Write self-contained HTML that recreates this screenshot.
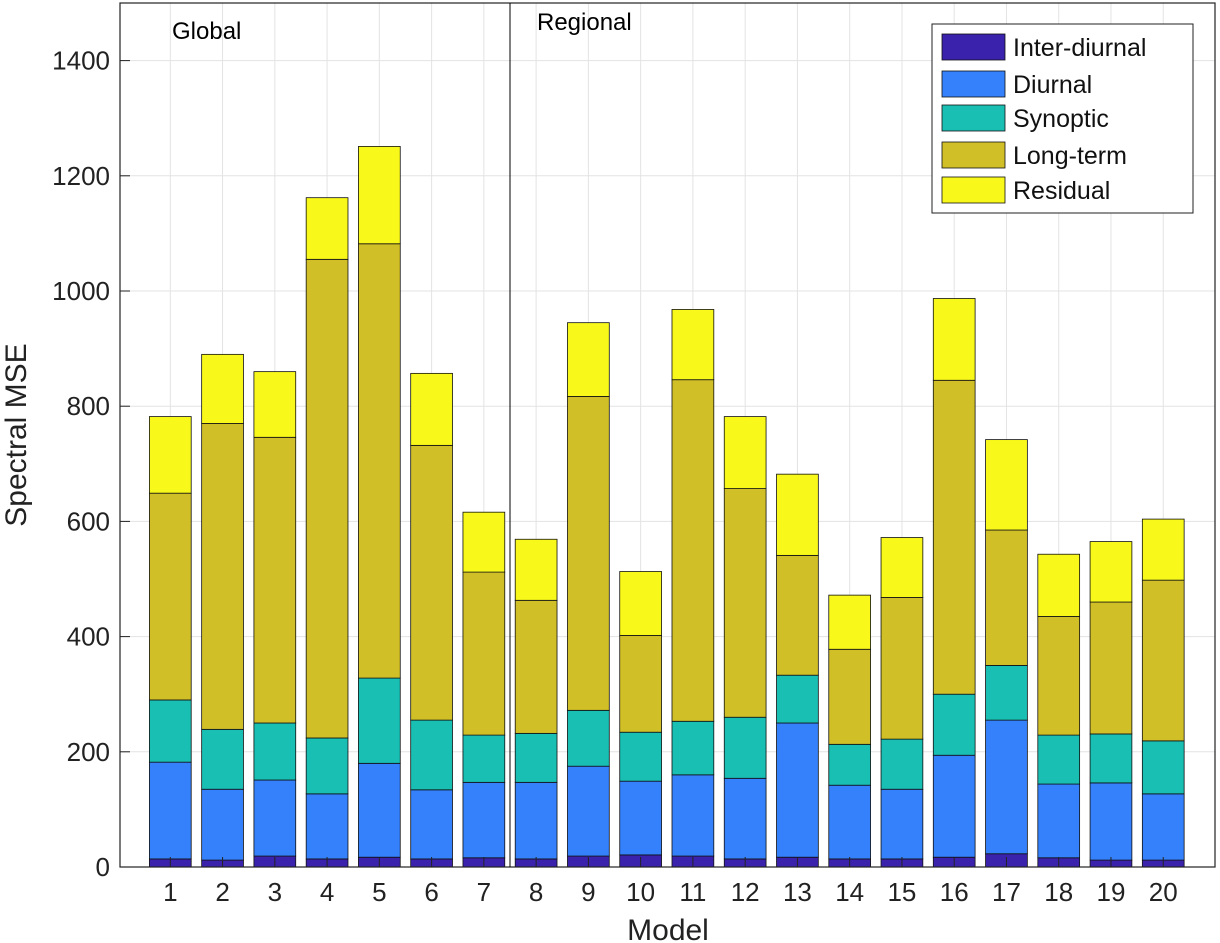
<!DOCTYPE html>
<html><head><meta charset="utf-8">
<style>
html,body{margin:0;padding:0;background:#fff;}
svg{display:block;font-family:"Liberation Sans","DejaVu Sans",sans-serif;}
</style></head>
<body>
<svg id="chart" width="1220" height="943" viewBox="0 0 1220 943">
<g id="grid"></g>
<g id="bars"></g>
<g id="axes"></g>
<line x1="510" y1="3" x2="510" y2="867" stroke="#000" stroke-width="1"/>
<text x="172" y="39" font-size="24">Global</text>
<text x="537" y="30" font-size="24">Regional</text>
<text x="668" y="940" font-size="30" text-anchor="middle" fill="#222">Model</text>
<text transform="translate(26,435) rotate(-90)" font-size="30" text-anchor="middle" fill="#222">Spectral MSE</text>
<g id="legend"></g>
</svg>
<script>
const categories = [1,2,3,4,5,6,7,8,9,10,11,12,13,14,15,16,17,18,19,20];
const seriesNames = ["Inter-diurnal","Diurnal","Synoptic","Long-term","Residual"];
const interDiurnal = [14,12,19,14,17,14,16,14,19,21,19,14,17,14,14,17,23,16,12,12];
const diurnal = [168,123,132,113,163,120,131,133,156,128,141,140,233,128,121,177,232,128,134,115];
const synoptic = [108,104,99,97,148,121,82,85,97,85,93,106,83,71,87,106,95,85,85,92];
const longTerm = [359,531,496,831,754,477,283,231,545,168,593,397,208,165,246,545,235,206,229,279];
const residual = [133,120,114,107,169,125,104,106,128,111,122,125,141,94,104,142,157,108,105,106];
const yTicks = [0,200,400,600,800,1000,1200,1400];
const colors = ["#3a22ad","#3580fb","#1abfb4","#d1bf28","#f8f81b"];

const NS="http://www.w3.org/2000/svg";
const plotL=120,plotR=1215,plotT=3,plotB=867,yMax=1500;
function yS(v){return plotB-(v/yMax)*(plotB-plotT);}
const step=52.26;
function xS(c){return 170.3+(c-1)*step;}
const bw=step*0.8;
function mk(tag,attrs,parent){const e=document.createElementNS(NS,tag);for(const k in attrs)e.setAttribute(k,attrs[k]);parent.appendChild(e);return e;}

const gridG=document.getElementById('grid');
const axesG=document.getElementById('axes');
yTicks.forEach(t=>{
  const g=mk('line',{x1:plotL,x2:plotR,y1:yS(t),y2:yS(t),stroke:'#e3e3e3','stroke-width':1},gridG);
  
  
  const tk=mk('line',{x1:plotL,x2:plotL+10,y1:yS(t),y2:yS(t),stroke:'#222'},axesG);
  
  
  const lb=mk('text',{x:plotL-10,y:yS(t)+9,'font-size':26,'text-anchor':'end',fill:'#222'},axesG);
  lb.textContent=t;
  
  
});
categories.forEach(c=>{
  const g=mk('line',{x1:xS(c),x2:xS(c),y1:plotT,y2:plotB,stroke:'#e3e3e3','stroke-width':1},gridG);
  
  
  const tk=mk('line',{x1:xS(c),x2:xS(c),y1:plotB,y2:plotB-10,stroke:'#222'},axesG);
  
  
  const lb=mk('text',{x:xS(c),y:plotB+34,'font-size':26,'text-anchor':'middle',fill:'#222'},axesG);
  lb.textContent=c;
  
  
});
const frame=mk('rect',{x:plotL,y:plotT,width:plotR-plotL,height:plotB-plotT,fill:'none',stroke:'#222','stroke-width':1.2},axesG);



const barsG=document.getElementById('bars');
const series=[interDiurnal,diurnal,synoptic,longTerm,residual];
const segNames=['bar-inter-diurnal','bar-diurnal','bar-synoptic','bar-long-term','bar-residual'];
categories.forEach((c,i)=>{
  let base=0;
  series.forEach((s,k)=>{
    const v=s[i];
    const r=mk('rect',{x:xS(c)-bw/2,y:yS(base+v),width:bw,height:yS(base)-yS(base+v),fill:colors[k],stroke:'#111','stroke-width':0.8},barsG);
    
    
    base+=v;
  });
});

const legendG=document.getElementById('legend');
const lbox=mk('rect',{x:932,y:24,width:261,height:189,fill:'#fff',stroke:'#222','stroke-width':1},legendG);


const ly=[47,84,118,155,190];
seriesNames.forEach((n,k)=>{
  const sw=mk('rect',{x:942,y:ly[k]-13,width:63,height:26,fill:colors[k],stroke:'#111','stroke-width':0.8},legendG);
  
  
  const t=mk('text',{x:1013,y:ly[k]+9,'font-size':25,fill:'#111'},legendG);
  t.textContent=n;
  
  
});
</script>
</body></html>
